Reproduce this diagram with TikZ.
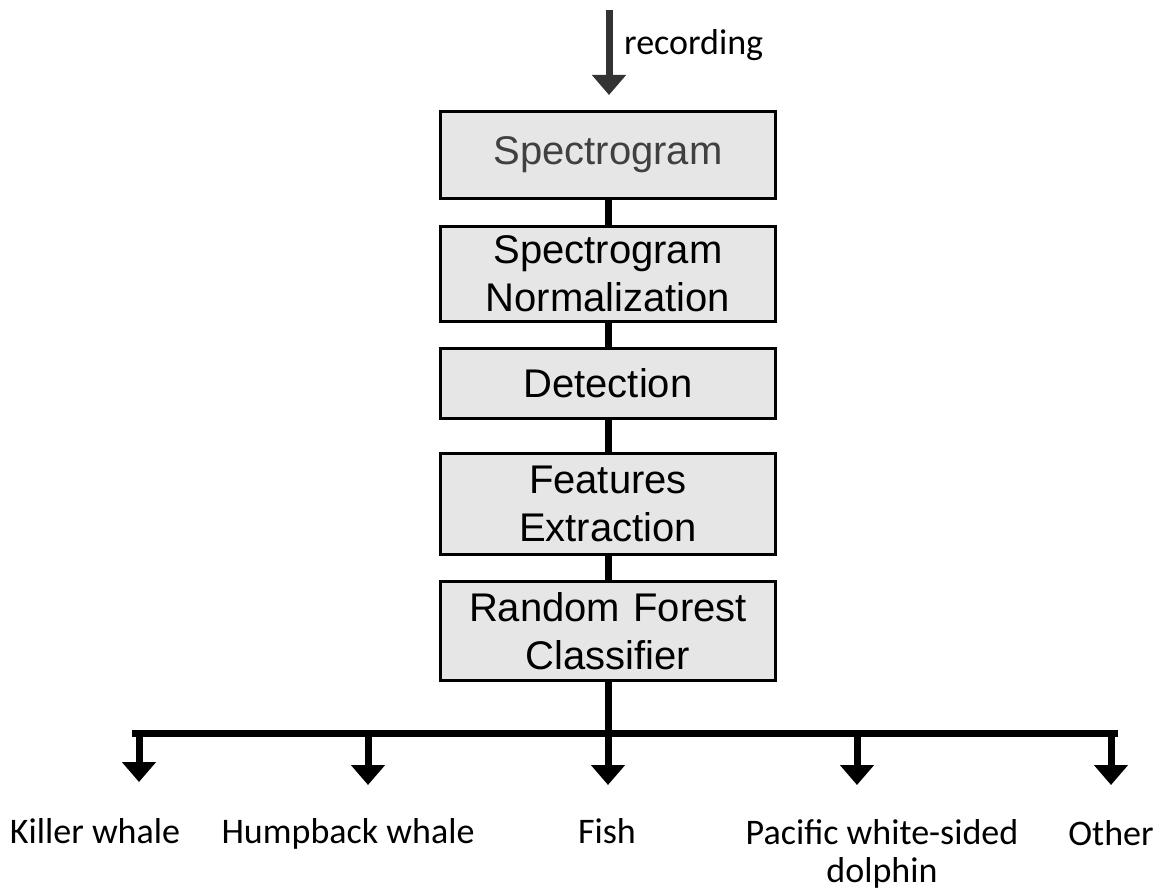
\documentclass[tikz,border=0pt]{standalone}
\usepackage{fontspec}
\setmainfont{Liberation Sans}
\newfontfamily\labelfont{Carlito}
\usetikzlibrary{arrows.meta}
\definecolor{boxgray}{HTML}{E6E6E6}
\definecolor{arrowgray}{HTML}{333333}
\definecolor{titlegray}{HTML}{404040}
\begin{document}
\begin{tikzpicture}[x=1pt,y=1pt,
  stage/.style={draw=black, line width=3pt, fill=boxgray, minimum width=335pt,
    text width=330pt, align=center, inner sep=0pt,
    font=\fontsize{40}{48}\selectfont},
  link/.style={line width=7pt},
  drop/.style={line width=7pt, -{Triangle[width=33pt,length=20pt]}},
  outlabel/.style={font=\labelfont\fontsize{36}{38}\selectfont, anchor=base, align=center, inner sep=0pt}]
\useasboundingbox (0,0) rectangle (1160,-890);

% top input arrow
\coordinate (in) at (609,-10);
\node[stage, minimum height=87pt, text=titlegray] (spec) at (608,-155) {Spectrogram};
\draw[drop, arrowgray] (in) -- (609,-95) coordinate (intip);
\node[font=\labelfont\fontsize{36}{38}\selectfont, anchor=west, inner sep=0pt] (rec) at (624,-45) {recording};

\node[stage, minimum height=95pt] (norm) at (608,-274) {Spectrogram\\Normalization};
\node[stage, minimum height=70pt] (det) at (608,-383.5) {Detection};
\node[stage, minimum height=101pt] (feat) at (608,-504) {Features\\Extraction};
\node[stage, minimum height=99pt] (rfc) at (608,-631) {Random Forest\\Classifier};

\draw[link] (spec.south) -- (norm.north);
\draw[link] (norm.south) -- (det.north);
\draw[link] (det.south) -- (feat.north);
\draw[link] (feat.south) -- (rfc.north);

% branching
\coordinate (hub) at (rfc.south |- 0,-733);
\coordinate (bl) at (132,-733);
\coordinate (br) at (1118,-733);
\draw[link] (rfc.south) -- (hub);
\draw[link] (bl) -- (br);

\coordinate (b1) at (139,-733);
\coordinate (b2) at (368,-733);
\coordinate (b3) at (608,-733);
\coordinate (b4) at (857,-733);
\coordinate (b5) at (1111,-733);
\coordinate (t1) at (139,-782);
\coordinate (t2) at (368,-785);
\coordinate (t3) at (608,-785);
\coordinate (t4) at (857,-785);
\coordinate (t5) at (1111,-785);
\foreach \i in {1,...,5} {\draw[drop] (b\i) -- (t\i);}

\node[outlabel] (l1) at (95,-843) {Killer whale};
\node[outlabel] (l2) at (348,-843) {Humpback whale};
\node[outlabel] (l3) at (607,-843) {Fish};
\node[outlabel] (l4) at (882,-882) {Pacific white-sided\\dolphin};
\node[outlabel] (l5) at (1111,-845) {Other};
\end{tikzpicture}
\end{document}
